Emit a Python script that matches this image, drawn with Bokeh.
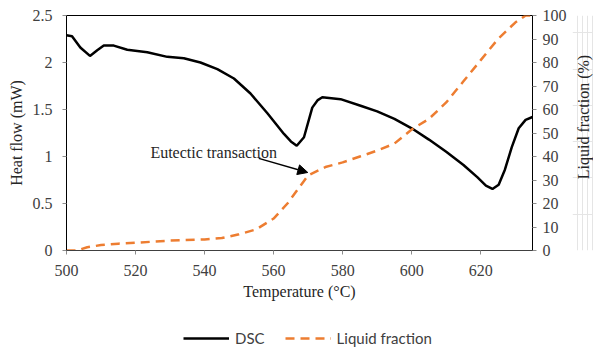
import math
from bokeh.plotting import figure
from bokeh.layouts import column, row
from bokeh.models import (Range1d, LinearAxis, Legend, LegendItem, Label, Arrow,
                          NormalHead, FixedTicker, NumeralTickFormatter)
from bokeh.embed import file_html
from bokeh.resources import INLINE

# DSC heat flow (mW) vs temperature (°C)
dsc_t = [500, 501.6, 504, 506.8, 508.9, 510.8, 513.7, 517.6, 523.4, 529.2, 534, 538.8,
         543.7, 548.5, 553.3, 558.2, 563, 565, 566.7, 568.8, 571.2, 572.8, 574.1, 579.4,
         585.2, 590, 595, 600, 605, 610, 615, 619, 621.5, 623.4, 625.2, 627, 629, 631,
         633, 635]
dsc_v = [2.29, 2.28, 2.16, 2.07, 2.13, 2.18, 2.18, 2.135, 2.11, 2.06, 2.045, 2.00,
         1.93, 1.83, 1.67, 1.46, 1.24, 1.16, 1.115, 1.205, 1.52, 1.60, 1.63, 1.61,
         1.54, 1.48, 1.40, 1.30, 1.18, 1.05, 0.91, 0.78, 0.69, 0.655, 0.70, 0.86, 1.10,
         1.30, 1.39, 1.42]

# Liquid fraction (%) vs temperature (°C)
liq_t = [500, 503, 506, 510, 515, 520, 530, 540, 545, 550, 555, 560, 564, 567, 570,
         575, 580, 585, 590, 595, 600, 605, 610, 615, 620, 625, 630, 633, 635]
liq_v = [0, 0, 1.4, 2.3, 2.9, 3.3, 4.2, 4.7, 5.3, 6.9, 9.0, 13.6, 20, 26, 32,
         35.5, 37.5, 40, 42.5, 45.5, 51.5, 56, 63, 72, 81, 90, 97, 100, 100]

x_ticks = [500, 520, 540, 560, 580, 600, 620]
y_ticks = [0, 0.5, 1, 1.5, 2, 2.5]
y2_ticks = [0, 10, 20, 30, 40, 50, 60, 70, 80, 90, 100]

series_names = ["DSC", "Liquid fraction"]
annot_text = "Eutectic transaction"
y2_title = "Liquid fraction (%)"

SERIF = "Liberation Serif"
TICK_COLOR = "#404040"
TITLE_COLOR = "#262626"
DSC_COLOR = "black"
LIQ_COLOR = "#ED7D31"
LIQ_DASH = "9 6"

MAIN_H = 324
LAB_W = 21

p = figure(frame_width=466, frame_height=235, output_backend="svg", toolbar_location=None,
           x_range=Range1d(500, 635), y_range=Range1d(0, 2.5),
           min_border_left=66, min_border_right=40, min_border_top=15, min_border_bottom=74)
p.extra_y_ranges = {"liq": Range1d(0, 100)}
p.grid.visible = False
p.outline_line_color = "black"
p.outline_line_width = 1
p.background_fill_color = "white"
p.border_fill_color = "white"

p.line(dsc_t, dsc_v, line_color=DSC_COLOR, line_width=2.5)
p.line(liq_t, liq_v, y_range_name="liq", line_color=LIQ_COLOR, line_width=2.5,
       line_dash=LIQ_DASH)

# axes
xa = p.xaxis[0]
xa.ticker = FixedTicker(ticks=x_ticks)
xa.axis_label = "Temperature (°C)"
ya = p.yaxis[0]
ya.ticker = FixedTicker(ticks=y_ticks)
ya.formatter = NumeralTickFormatter(format="0.[0]")
ya.axis_label = "Heat flow (mW)"

ya2 = LinearAxis(y_range_name="liq", ticker=FixedTicker(ticks=y2_ticks))
p.add_layout(ya2, "right")

for ax in (xa, ya, ya2):
    ax.axis_line_color = "black"
    ax.axis_line_width = 1
    ax.major_tick_line_color = "#8c8c8c"
    ax.major_tick_out = 4
    ax.major_tick_in = 0
    ax.minor_tick_line_color = None
    ax.major_label_text_font = SERIF
    ax.major_label_text_font_size = "16px"
    ax.major_label_text_color = TICK_COLOR
    ax.axis_label_text_font = SERIF
    ax.axis_label_text_font_size = "16px"
    ax.axis_label_text_font_style = "normal"
    ax.axis_label_text_color = TITLE_COLOR

xa.axis_line_color = "#404040"
xa.major_label_standoff = 10
xa.axis_label_standoff = 4
ya.major_label_standoff = 10
ya.axis_label_standoff = 5
ya2.major_label_standoff = 6

# annotation
p.add_layout(Label(x=524.3, y=1.043, text=annot_text, text_font=SERIF,
                   text_font_size="16px", text_color=TITLE_COLOR,
                   text_baseline="alphabetic"))
p.add_layout(Arrow(x_start=555.7, y_start=0.98, x_end=569.9, y_end=0.83,
                   line_color="black", line_width=1.5,
                   end=NormalHead(size=10, fill_color="black", line_color="black")))

# right-hand axis title (reads bottom to top) in a narrow strip
lab = figure(width=LAB_W, height=MAIN_H, output_backend="svg", toolbar_location=None,
             x_range=Range1d(0, LAB_W), y_range=Range1d(0, MAIN_H),
             x_axis_location=None, y_axis_location=None, min_border=0)
lab.outline_line_color = None
lab.add_layout(Label(x=LAB_W / 2, y=MAIN_H - 140, text=y2_title, angle=math.pi / 2,
                     text_align="center", text_baseline="middle", text_font=SERIF,
                     text_font_size="16px", text_color=TITLE_COLOR))

# legend strip below the chart (sample glyphs sit outside the visible range)
lg = figure(width=593, height=27, output_backend="svg", toolbar_location=None,
            x_range=Range1d(0, 1), y_range=Range1d(0, 1), min_border=0)
lg.axis.visible = False
lg.grid.visible = False
lg.outline_line_color = None
r1 = lg.line([5, 6], [5, 6], line_color=DSC_COLOR, line_width=2.5)
r2 = lg.line([5, 6], [5, 6], line_color=LIQ_COLOR, line_width=2.5, line_dash=LIQ_DASH)
legend = Legend(items=[LegendItem(label=series_names[0], renderers=[r1]),
                       LegendItem(label=series_names[1], renderers=[r2])],
                orientation="horizontal", location=(183, 4),
                glyph_width=46, glyph_height=18, label_standoff=6, spacing=20,
                padding=0, margin=0, border_line_color=None,
                background_fill_alpha=0,
                label_text_font="Lato", label_text_font_size="15px",
                label_text_color="#404040")
lg.add_layout(legend)

layout = column(row(p, lab, spacing=0), lg, spacing=0)
open("out.html", "w").write(file_html(layout, INLINE))
